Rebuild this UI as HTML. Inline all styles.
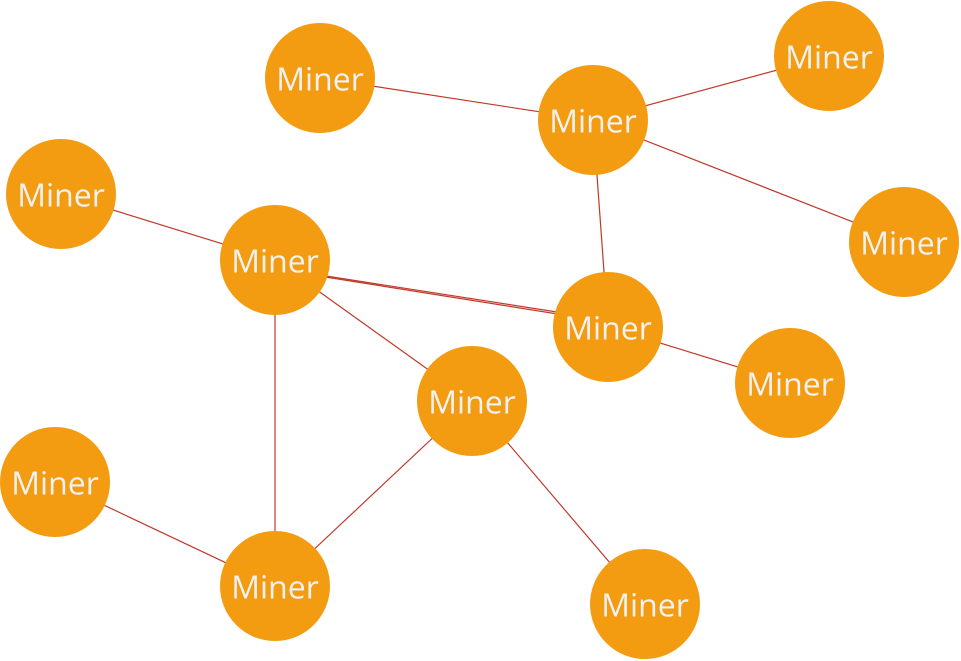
<!DOCTYPE html>
<html><head><meta charset="utf-8"><style>
html,body{margin:0;padding:0;background:#fff;width:961px;height:661px;overflow:hidden}
svg text{font-family:"Open Sans","DejaVu Sans","Liberation Sans",sans-serif;font-size:32px;fill:#f2f2f2;text-anchor:middle;dominant-baseline:central}
</style></head><body>
<svg width="961" height="661" viewBox="0 0 961 661" xmlns="http://www.w3.org/2000/svg">
<g stroke="#c0392b" stroke-width="1.2">
<line x1="320" y1="78" x2="593" y2="120"/>
<line x1="593" y1="120" x2="829" y2="56"/>
<line x1="593" y1="120" x2="904" y2="242"/>
<line x1="593" y1="120" x2="608" y2="327"/>
<line x1="61" y1="194" x2="275" y2="260"/>
<line x1="275" y1="268" x2="608" y2="320"/>
<line x1="275" y1="269" x2="608" y2="322"/>
<line x1="275" y1="260" x2="472" y2="401"/>
<line x1="275" y1="260" x2="275" y2="586"/>
<line x1="608" y1="327" x2="790" y2="383"/>
<line x1="472" y1="401" x2="275" y2="586"/>
<line x1="472" y1="401" x2="645" y2="604"/>
<line x1="55" y1="482" x2="275" y2="586"/>
</g>
<g fill="#f39c12">
<circle cx="320" cy="78" r="55"/>
<circle cx="593" cy="120" r="55"/>
<circle cx="829" cy="56" r="55"/>
<circle cx="904" cy="242" r="55"/>
<circle cx="61" cy="194" r="55"/>
<circle cx="275" cy="260" r="55"/>
<circle cx="608" cy="327" r="55"/>
<circle cx="790" cy="383" r="55"/>
<circle cx="472" cy="401" r="55"/>
<circle cx="55" cy="482" r="55"/>
<circle cx="275" cy="586" r="55"/>
<circle cx="645" cy="604" r="55"/>
</g>
<text x="320" y="79">Miner</text>
<text x="593" y="121">Miner</text>
<text x="829" y="57">Miner</text>
<text x="904" y="243">Miner</text>
<text x="61" y="195">Miner</text>
<text x="275" y="261">Miner</text>
<text x="608" y="328">Miner</text>
<text x="790" y="384">Miner</text>
<text x="472" y="402">Miner</text>
<text x="55" y="483">Miner</text>
<text x="275" y="587">Miner</text>
<text x="645" y="605">Miner</text>
</svg>
</body></html>
